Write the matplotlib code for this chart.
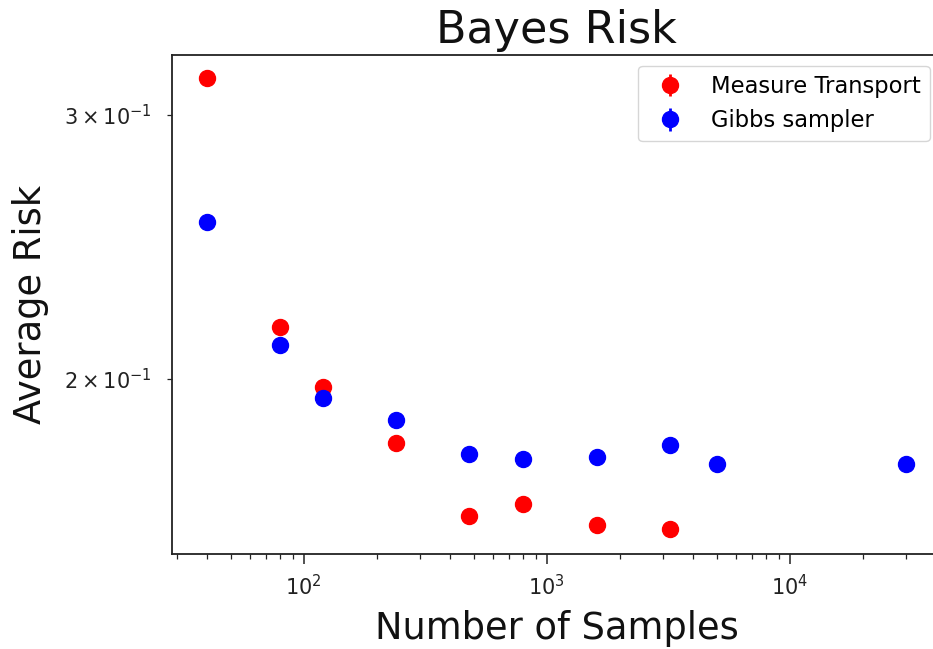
import matplotlib
matplotlib.use("Agg")
import matplotlib.pyplot as plt

# Sample sizes used for each estimator
samples_mt = [40, 80, 120, 240, 480, 800, 1600, 3200]
samples_gibbs = [40, 80, 120, 240, 480, 800, 1600, 3200, 5000, 30000]

# Average Bayes risk and its standard error
risk_mt = [0.3172, 0.2167, 0.1975, 0.1812, 0.1620, 0.1650, 0.1598, 0.1588]
err_mt = [0.0005] * len(risk_mt)
risk_gibbs = [0.2543, 0.2106, 0.1943, 0.1877, 0.1782, 0.1769, 0.1774, 0.1806, 0.1756, 0.1756]
err_gibbs = [0.0005] * len(risk_gibbs)

plt.rcParams.update({
    "font.family": "DejaVu Sans",
    "axes.linewidth": 1.3,
    "axes.edgecolor": "#222222",
    "xtick.major.size": 7.2,
    "xtick.minor.size": 3.8,
    "ytick.major.size": 7.2,
    "ytick.minor.size": 3.8,
    "xtick.major.width": 1.1,
    "xtick.minor.width": 0.9,
    "ytick.major.width": 1.1,
    "ytick.minor.width": 0.9,
    "xtick.major.pad": 7.0,
    "xtick.minor.pad": 7.0,
    "ytick.major.pad": 11.0,
    "ytick.minor.pad": 11.0,
    "xtick.labelsize": 15,
    "ytick.labelsize": 15,
    "xtick.color": "#222222",
    "ytick.color": "#222222",
})

fig = plt.figure(figsize=(9.33, 6.49), dpi=100)
ax = fig.add_axes([172 / 933, 1 - 554 / 649, (941 - 172) / 933, (554 - 54.5) / 649])

ax.errorbar(samples_mt, risk_mt, yerr=err_mt, fmt="o", color="r",
            markersize=11.5, elinewidth=2.0, label="Measure Transport")
ax.errorbar(samples_gibbs, risk_gibbs, yerr=err_gibbs, fmt="o", color="b",
            markersize=11.5, elinewidth=2.0, label="Gibbs sampler")

ax.set_xscale("log")
ax.set_yscale("log")

ax.set_title("Bayes Risk", fontsize=32, pad=8, color="#111111")
ax.set_xlabel("Number of Samples", fontsize=26.5, labelpad=8, color="#111111")
ax.set_ylabel("Average Risk", fontsize=26.5, labelpad=10.5, color="#111111")

ax.legend(loc="upper right", fontsize=16.3)

fig.savefig("out.png", dpi=100)
